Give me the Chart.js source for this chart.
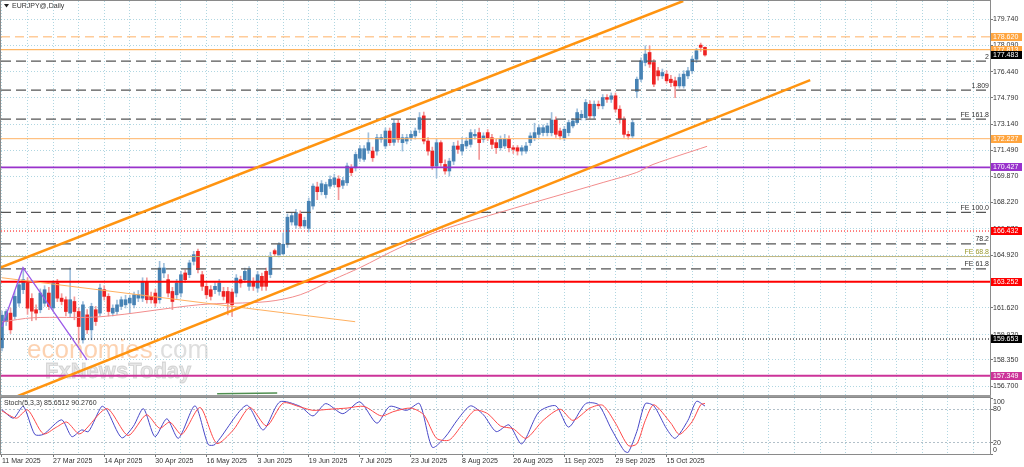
<!DOCTYPE html>
<html><head><meta charset="utf-8">
<script src="https://cdn.jsdelivr.net/npm/chart.js@4.4.1/dist/chart.umd.min.js"></script>
<style>
html,body{margin:0;padding:0;background:#fff;width:1024px;height:467px;overflow:hidden;}
.wrap{position:absolute;left:0;width:1024px;}
</style></head><body>
<div class="wrap" style="top:0;height:397px"><canvas id="main" width="1024" height="397"></canvas></div>
<div class="wrap" style="top:395px;height:72px"><canvas id="stoch" width="1024" height="72"></canvas></div>
<script>
// ---------------- DATA ----------------
const symbolTitle = 'EURJPY@,Daily';
const tickLabels = ['11 Mar 2025','27 Mar 2025','14 Apr 2025','30 Apr 2025','16 May 2025','3 Jun 2025','19 Jun 2025','7 Jul 2025','23 Jul 2025','8 Aug 2025','26 Aug 2025','11 Sep 2025','29 Sep 2025','15 Oct 2025'];
const priceTicks = [179.740,178.090,176.440,174.790,173.140,171.490,169.870,168.220,166.570,164.920,163.270,161.620,159.920,158.350,156.700];

const open = [159.10,160.75,161.28,161.07,161.91,162.75,163.17,162.20,161.49,161.49,
161.90,162.54,161.60,163.17,162.22,162.12,161.28,162.01,161.38,159.60,
161.17,160.23,161.49,161.28,162.75,162.33,161.28,161.38,161.70,161.80,
161.91,161.80,162.22,162.22,163.27,162.33,162.54,162.12,163.80,163.38,
162.64,162.43,162.54,163.80,163.69,164.53,165.16,163.69,162.96,162.75,
162.75,162.64,162.64,162.64,162.60,162.54,163.38,163.38,162.96,163.27,
162.85,163.59,163.90,163.70,165.20,164.95,165.00,165.60,167.00,166.80,
167.50,166.75,166.60,168.00,169.20,168.90,168.72,169.25,169.35,169.70,
169.30,169.46,170.40,170.40,171.00,170.93,171.50,171.45,171.45,172.20,
171.77,172.71,172.00,173.20,171.98,172.08,172.30,172.40,172.82,173.66,
172.08,171.45,170.51,171.98,170.61,170.20,170.82,171.77,171.45,171.77,
171.87,172.40,172.61,172.19,172.61,172.29,171.98,171.66,171.77,172.19,
171.66,171.66,171.45,171.45,171.98,172.29,172.50,172.61,172.61,172.60,
173.40,172.71,172.29,172.61,173.03,173.24,173.55,173.55,174.39,173.66,
174.39,174.29,174.81,174.70,174.92,174.08,173.45,172.50,172.40,175.20,
175.96,177.01,177.64,177.01,176.49,176.17,176.28,175.96,175.86,175.54,
175.54,176.17,176.49,177.22,178.10,177.96];
const high = [161.40,161.50,161.60,162.64,163.30,164.11,163.50,162.50,161.80,162.80,
163.00,162.90,163.30,163.40,162.50,162.30,164.11,162.30,161.60,162.00,
161.50,161.90,161.70,163.10,163.00,162.50,161.80,162.10,162.30,162.40,
162.40,162.60,162.70,163.50,163.50,162.60,162.80,164.53,164.40,163.70,
162.90,163.40,163.90,164.00,164.60,165.16,165.30,163.90,163.20,163.00,
163.20,163.40,162.90,162.90,162.80,163.70,163.60,164.10,164.20,163.50,
163.90,163.80,164.10,165.10,165.30,165.70,166.30,167.50,167.60,167.80,
167.70,167.30,168.50,169.40,169.50,169.60,169.50,169.90,170.00,169.90,
169.80,170.70,170.60,171.40,171.80,171.80,172.60,171.70,172.50,172.50,
172.90,172.90,173.40,173.40,172.50,172.50,172.70,172.90,173.87,173.90,
172.30,171.70,172.20,172.10,170.90,171.00,172.00,172.10,172.30,172.30,
172.80,172.80,172.90,172.60,172.80,172.50,172.20,172.40,172.50,172.40,
171.80,171.80,171.80,172.00,172.60,173.20,173.10,173.10,173.20,173.87,
173.60,172.90,173.00,173.40,173.50,174.10,174.00,174.70,174.60,174.60,
174.60,175.00,175.00,175.10,175.10,174.30,173.60,172.70,173.40,176.10,
177.30,178.06,178.06,177.20,176.70,176.60,176.50,176.20,176.10,176.30,
176.50,176.70,177.40,177.90,178.23,178.00];
const low = [158.90,160.50,160.00,160.90,161.70,162.50,161.20,160.80,160.86,161.30,
161.70,161.50,161.40,162.00,161.80,161.10,161.00,160.86,159.39,159.40,
160.00,159.60,160.50,161.10,162.10,161.10,161.10,161.20,161.50,161.60,
161.28,161.60,162.00,162.00,161.90,161.90,161.70,161.90,163.50,162.30,
161.50,162.20,162.30,163.20,163.50,164.30,163.80,162.70,162.20,162.10,
162.50,162.40,162.10,161.17,161.07,162.30,162.90,163.20,162.70,162.70,
162.60,162.70,162.70,163.50,164.90,164.80,164.95,165.40,166.80,166.60,
166.60,166.60,166.40,167.80,168.40,168.70,168.50,169.10,169.20,168.40,
169.10,169.30,169.90,170.20,170.80,170.80,171.30,170.80,171.20,172.00,
171.60,171.80,171.80,172.00,171.45,171.90,172.10,172.20,172.60,171.90,
171.20,170.30,169.77,170.50,170.00,169.88,170.60,171.30,171.20,171.60,
171.70,172.20,170.93,172.00,172.10,171.60,171.30,171.50,171.60,171.40,
171.30,171.20,171.20,171.30,171.80,172.10,172.30,172.40,172.40,172.40,
172.30,172.20,172.10,172.40,172.90,173.10,173.40,173.40,173.50,173.50,
174.10,174.10,174.50,174.50,173.90,173.20,172.30,172.20,172.30,174.80,
175.80,176.80,176.70,175.50,175.90,176.00,175.70,175.50,174.81,175.40,
175.40,176.00,176.30,177.00,177.70,177.40];
const close = [161.15,161.38,160.23,162.33,163.06,163.38,161.59,161.40,161.28,162.54,
162.75,161.70,163.17,162.22,162.01,161.38,162.12,161.38,160.44,161.80,
160.23,161.70,160.75,162.85,162.33,161.38,161.59,161.80,162.12,162.12,
162.22,162.43,162.43,163.27,162.12,162.12,161.91,164.11,164.11,162.54,
162.01,163.17,163.69,163.38,164.43,164.95,164.01,162.96,162.43,162.33,
162.96,163.17,162.33,161.91,161.80,163.48,163.17,163.90,164.01,162.96,
163.69,162.96,162.96,164.80,165.00,165.58,165.60,167.30,167.40,167.60,
166.75,167.10,168.30,169.25,168.90,169.40,169.35,169.67,169.77,169.20,
169.60,170.51,170.10,171.24,171.60,171.60,171.98,171.03,172.29,172.30,
172.71,171.98,173.20,172.20,172.29,172.29,172.50,172.71,173.55,172.08,
171.45,170.51,171.98,170.72,170.20,170.82,171.77,171.56,171.87,172.08,
172.61,172.50,171.98,172.40,172.29,171.87,171.66,172.19,172.19,171.66,
171.56,171.45,171.66,171.77,172.40,172.61,172.92,172.92,173.03,173.40,
172.50,172.40,172.82,173.24,173.34,173.87,173.76,174.50,173.66,174.39,
174.29,174.81,174.70,174.92,174.08,173.45,172.50,172.40,173.24,175.96,
177.12,177.54,176.91,175.65,176.17,176.38,175.86,175.75,175.54,176.07,
176.28,176.49,177.22,177.75,177.96,177.48];

// moving average line (read points: bar index, price)
const maPoints = [[0,160.73],[7.3,160.99],[23,161.05],[46.5,161.81],[62.2,162.0],[70,162.43],[77.7,163.38],[84,164.13],[93.4,165.39],[103.5,166.52],[117.6,167.66],[141.1,169.48],[149,170.11],[152.8,170.61],[165.5,171.75]];
// trend lines (bar index, price)
const upperChannel = [[-0.47,164.13],[159.9,180.87]];
const lowerChannel = [[3.76,156.08],[189.7,175.90]];
const fanLine = [[0,163.50],[82.9,160.74]];
const zigzag = [[0,160.42],[4.93,164.13],[19.95,158.34]];
const bottomMark = [[50.5,156.22],[64.6,156.26]];

// horizontal price levels with axis boxes
const boxValues = [178.620,177.813,177.483,172.227,170.427,166.432,163.252,159.653,157.349];
// fibonacci levels
const fiboValues = [177.10,175.27,173.45,167.60,165.62,164.83,164.06];
const fiboLabels = ['2','1.809','FE 161.8','FE 100.0','78.2','FE 68.8','FE 61.8'];

// stochastic (bar index, value)
const stochK = [[0,79],[2.7,64],[5,85],[7.7,35],[9.7,35],[14,61],[16.4,31],[18.7,43],[20.3,40],[23.4,85],[24.6,79],[28.1,29],[30.8,49],[33.2,81],[35.9,31],[38.7,63],[41.4,28],[45.3,86],[48.4,17],[50,17],[57.4,87],[61.3,43],[65.2,93],[70,85],
[73,68],[76,90],[80,72],[84,93],[88,55],[91,85],[95,78],[98,90],[101,12],[104,30],[107,62],[110,86],[113,70],[116,40],[119,52],[122,18],[126,75],[130,86],[133,48],[137,90],[140,88],[143,45],[146,6],[147,3],[149,40],[151,90],[153,86],[156,45],[158,28],[161,60],[163,94],[165,85.6512]];
const stochD = [[0,77],[3.4,64],[6,79],[9.7,36],[12.8,48],[15.2,57],[18.3,36],[24.6,81],[29.6,33],[33.9,70],[37,46],[39.4,57],[42.2,35],[46.5,83],[50.4,19],[54.3,43],[58.2,83],[62.1,50],[66,91],[70,84],
[73,78],[77,80],[81,82],[85,85],[89,68],[92,76],[96,82],[99,70],[102,28],[105,25],[108,52],[111,78],[114,72],[117,50],[120,45],[123,28],[127,60],[131,80],[134,60],[138,82],[141,87],[144,55],[147,15],[149,18],[151,60],[153,88],[157,55],[159,35],[162,58],[164,88],[165,90.2760]];

// ---------------- STYLE ----------------
const FONT = 'Liberation Sans';
Chart.defaults.font.family = FONT;
Chart.defaults.font.size = 7;
Chart.defaults.color = '#333';
const xMin = -0.23, xMax = 231.9;
const yMin = 156.14, yMax = 180.87;
const gridColor = 'rgba(150,200,215,0.75)';
const bullC = '#4682b4', bearC = '#ee2222', bullW = '#9fbfdc', bearW = '#f29a9a';
const boxColors = ['#ffa53f','#ffa53f','#000000','#ffa53f','#9932cc','#ff0000','#ff0000','#000000','#cc3399'];
const boxLine = [
  {c:'#ffb266',w:1,d:[9,5]},{c:'#ffa53f',w:1,d:[]},null,{c:'#ffb366',w:1,d:[]},
  {c:'#9932cc',w:1.6,d:[]},{c:'#ff0000',w:1,d:[1,2]},{c:'#ff0000',w:2,d:[]},
  {c:'#000000',w:1,d:[1,2]},{c:'#cc3399',w:2,d:[]}];
const fiboStyle = fiboLabels.map(l => l==='FE 68.8' ? {c:'#bdb680',w:1,d:[],t:'#9a9a30'} : {c:'#555',w:1.2,d:[10,5],t:'#333'});

const pts = a => a.map(p => ({x:p[0], y:p[1]}));
const hline = v => [{x:xMin,y:v},{x:xMax,y:v}];
const idx = open.map((_, i) => i);
const isBull = i => close[i] >= open[i];
const noPad = s => { s.paddingTop = 0; s.paddingBottom = 0; s.paddingLeft = 0; s.paddingRight = 0; };

const datasets = [];
boxValues.forEach((v,k) => { const s = boxLine[k]; if (!s) return;
  datasets.push({type:'line', data:hline(v), borderColor:s.c, borderWidth:s.w, borderDash:s.d, pointRadius:0, order:2}); });
fiboValues.forEach((v,k) => { const s = fiboStyle[k];
  datasets.push({type:'line', data:hline(v), borderColor:s.c, borderWidth:s.w, borderDash:s.d, pointRadius:0, order:2}); });
datasets.push({type:'line', data:pts(fanLine), borderColor:'#ffb060', borderWidth:1, pointRadius:0, order:1});
datasets.push({type:'line', data:pts(maPoints), borderColor:'#f28c8c', borderWidth:1, pointRadius:0, tension:0.3, order:1});
datasets.push({type:'line', data:pts(upperChannel), borderColor:'#ff9410', borderWidth:2.5, pointRadius:0, order:0});
datasets.push({type:'line', data:pts(lowerChannel), borderColor:'#ff9410', borderWidth:2.5, pointRadius:0, order:0});
datasets.push({type:'line', data:pts(zigzag), borderColor:'#9b59e8', borderWidth:1.3, pointRadius:0, order:0});
datasets.push({type:'line', data:pts(bottomMark), borderColor:'#4f8f4f', borderWidth:1.5, pointRadius:0, order:0});
datasets.push({type:'bar', data:idx.map(i => ({x:i, y:[low[i], high[i]]})), barThickness:1, grouped:false,
  backgroundColor: c => isBull(c.dataIndex) ? bullW : bearW, order:6});
datasets.push({type:'bar', data:idx.map(i => ({x:i, y:[open[i], close[i]]})), barThickness:3, grouped:false, minBarLength:1,
  backgroundColor: c => isBull(c.dataIndex) ? bullC : bearC, order:5});

const xTicks = s => { const t = []; for (let v = 0; v <= xMax; v += 6) t.push({value:v}); s.ticks = t; };

const mainPlugin = {
  id:'mainDeco',
  beforeDatasetsDraw(chart) {
    const c = chart.ctx; c.save();
    c.textBaseline = 'alphabetic';
    c.font = '26px "' + FONT + '"';
    c.fillStyle = 'rgba(250,180,125,0.6)';
    c.fillText('economies', 27, 358);
    const w = c.measureText('economies').width;
    c.fillStyle = 'rgba(200,200,200,0.6)';
    c.fillText('.com', 27 + w, 358);
    c.font = 'bold 22px "' + FONT + '"';
    c.fillStyle = 'rgba(215,215,215,0.6)';
    c.strokeStyle = 'rgba(180,180,180,0.5)'; c.lineWidth = 0.8;
    c.fillText('FxNewsToday', 45, 378);
    c.strokeText('FxNewsToday', 45, 378);
    c.restore();
  },
  afterDraw(chart) {
    const c = chart.ctx, a = chart.chartArea, y = chart.scales.y;
    c.save();
    c.font = '7px "' + FONT + '"'; c.textAlign = 'right'; c.textBaseline = 'bottom';
    fiboValues.forEach((v,k) => { c.fillStyle = fiboStyle[k].t; c.fillText(fiboLabels[k], a.right - 1, y.getPixelForValue(v) - 1); });
    c.textAlign = 'left'; c.textBaseline = 'middle';
    boxValues.forEach((v,k) => { const py = Math.round(y.getPixelForValue(v));
      c.fillStyle = boxColors[k]; c.fillRect(a.right + 1, py - 4, 31, 8);
      c.fillStyle = '#fff'; c.fillText(v.toFixed(3), a.right + 3, py + 0.5); });
    c.strokeStyle = '#8a8a8a'; c.lineWidth = 1;
    c.strokeRect(a.left - 0.5, a.top - 0.5, a.right - a.left + 1, a.bottom - a.top + 1);
    c.fillStyle = '#9a9a9a'; c.fillRect(0, a.bottom, a.right + 1, 2);
    c.fillStyle = '#222'; c.beginPath(); c.moveTo(4,4); c.lineTo(9,4); c.lineTo(6.5,7.5); c.closePath(); c.fill();
    c.fillStyle = '#333'; c.textBaseline = 'middle'; c.fillText(symbolTitle, 12, 6.5);
    c.restore();
  }
};

new Chart(document.getElementById('main'), {
  type:'bar',
  data:{datasets},
  options:{
    responsive:false, animation:false, events:[],
    layout:{padding:{left:1, top:1, right:0, bottom:2}},
    plugins:{legend:{display:false}, tooltip:{enabled:false}},
    scales:{
      x:{type:'linear', min:xMin, max:xMax, offset:false, afterBuildTicks:xTicks,
         ticks:{display:false}, grid:{offset:false, color:gridColor, drawTicks:false, lineWidth:1},
         border:{display:false, dash:[1,2]}, afterFit:s => { s.height = 0; noPad(s); }},
      y:{type:'linear', position:'right', min:yMin, max:yMax,
         afterBuildTicks:s => { s.ticks = priceTicks.map(v => ({value:v})); },
         ticks:{padding:0, color:'#333', autoSkip:false, callback:v => Number(v).toFixed(3)},
         grid:{color:gridColor, tickColor:'#777', tickLength:3, lineWidth:1},
         border:{display:false, dash:[1,2]}, afterFit:s => { s.width = 34; noPad(s); }}
    }
  },
  plugins:[mainPlugin]
});

const stochPlugin = {
  id:'stochDeco',
  afterDraw(chart) {
    const c = chart.ctx, a = chart.chartArea;
    c.save();
    c.strokeStyle = '#8a8a8a'; c.lineWidth = 1;
    c.strokeRect(a.left - 0.5, a.top - 0.5, a.right - a.left + 1, a.bottom - a.top + 1);
    c.font = '7px "' + FONT + '"'; c.fillStyle = '#333'; c.textBaseline = 'middle'; c.textAlign = 'left';
    const k = stochK[stochK.length - 1][1], d = stochD[stochD.length - 1][1];
    c.fillText('Stoch(5,3,3) ' + k.toFixed(4) + ' ' + d.toFixed(4), 4, a.top + 5);
    c.restore();
  }
};

new Chart(document.getElementById('stoch'), {
  type:'line',
  data:{datasets:[
    {data:pts(stochD), borderColor:'#ff4848', borderWidth:1, pointRadius:0, tension:0.25},
    {data:pts(stochK), borderColor:'#4848c8', borderWidth:1, pointRadius:0, tension:0.25}
  ]},
  options:{
    responsive:false, animation:false, events:[],
    layout:{padding:{left:1, top:3, right:0, bottom:0}},
    plugins:{legend:{display:false}, tooltip:{enabled:false}},
    scales:{
      x:{type:'linear', min:xMin, max:xMax, afterBuildTicks:xTicks,
         ticks:{autoSkip:false, maxRotation:0, minRotation:0, align:'start', padding:0, color:'#333',
                callback:v => (v % 12 === 0 && v / 12 < tickLabels.length) ? tickLabels[v / 12] : ''},
         grid:{color:gridColor, lineWidth:1, tickLength:3,
               tickColor:c => (c.tick && c.tick.value % 12 === 0 && c.tick.value / 12 < tickLabels.length) ? '#777' : 'rgba(0,0,0,0)'},
         border:{display:false, dash:[1,2]}, afterFit:s => { s.height = 13; noPad(s); }},
      y:{type:'linear', position:'right', min:0, max:100,
         afterBuildTicks:s => { s.ticks = [0,20,80,100].map(v => ({value:v})); },
         ticks:{padding:0, color:'#333', autoSkip:false,
                callback:v => v === 100 ? ['', '100'] : v === 0 ? ['0', ''] : String(v)},
         grid:{color:c => (c.tick && (c.tick.value === 20 || c.tick.value === 80)) ? 'rgba(170,185,195,0.9)' : 'rgba(0,0,0,0)',
               tickColor:'#777', tickLength:3, lineWidth:1},
         border:{display:false, dash:[2,2]}, afterFit:s => { s.width = 34; noPad(s); }}
    }
  },
  plugins:[stochPlugin]
});
</script>
</body></html>
